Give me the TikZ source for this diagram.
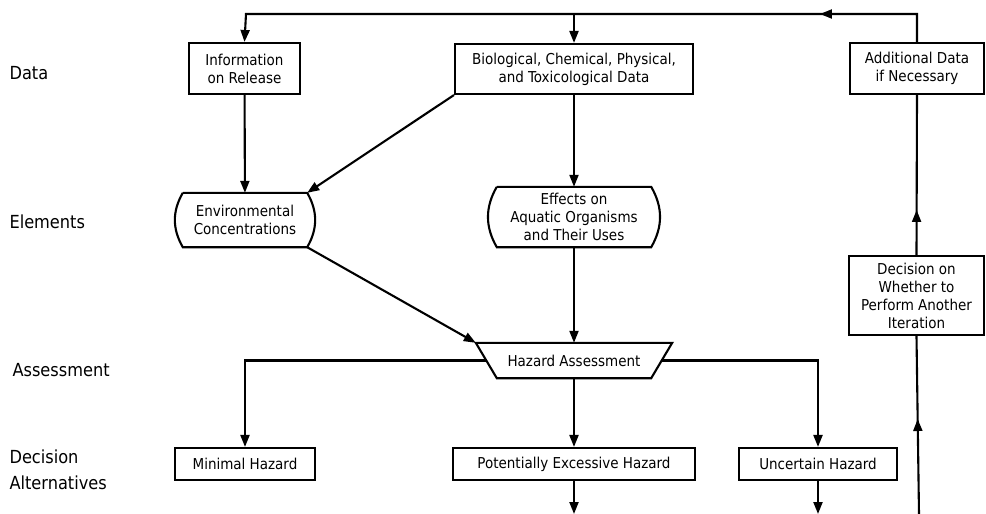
\documentclass[tikz,border=0pt]{standalone}
\usepackage{fontspec}
\setmainfont{DejaVu Sans Condensed}
\usetikzlibrary{arrows.meta,positioning,calc,decorations.markings}
\tikzset{x=1pt, y=-1pt, % one unit is one pixel of the original drawing
        every node/.style={font=\fontsize{15}{18}\selectfont},
        box/.style={ % plain rectangular boxes
            draw,
            line width=2.1pt,
            align=center,
            inner sep=0pt},
        bulgebox/.style={ % boxes with curved sides, border drawn by hand
            align=center,
            inner sep=0pt},
        rowlabel/.style={ % names of the rows on the left
            anchor=west,
            align=left,
            font=\fontsize{18}{26}\selectfont},
        flow/.style={ % plain lines of the diagram
            draw,
            line width=2.1pt},
        every edge/.style={ % Sets the properties for each connector
            draw,
            line width=2.1pt,
            -{Triangle[length=12pt,width=9pt]}},
        midarrow/.style={ % arrow head somewhere along a line
            postaction={decorate},
            decoration={markings,
                mark=at position #1 with {\arrow{Triangle[length=12pt,width=9pt]}}}}
        }

\begin{document}
\begin{tikzpicture}
    \useasboundingbox (0,0) rectangle (986,514);

    % row names
    \node[rowlabel] (lData) at (6,73) {Data};
    \node[rowlabel] (lElem) at (6,222) {Elements};
    \node[rowlabel] (lAss) at (9,370) {Assessment};
    \node[rowlabel] (lDec) at (6,470) {Decision\\Alternatives};

    % data row
    \node[box, minimum width=111, minimum height=51] (info) at (244.5,68.5) {Information\\on Release};
    \node[box, minimum width=238, minimum height=50] (bio) at (574,69) {Biological, Chemical, Physical,\\and Toxicological Data};
    \node[box, minimum width=134, minimum height=51] (add) at (917,68.5) {Additional Data\\if Necessary};

    % elements row
    \node[bulgebox, minimum width=124, minimum height=54] (env) at (245,220) {Environmental\\Concentrations};
    \node[bulgebox, minimum width=154, minimum height=60] (eff) at (574,217) {Effects on\\Aquatic Organisms\\and Their Uses};
    \foreach \n in {env,eff}
        \draw[flow] (\n.north west) -- (\n.north east) to[bend left=30] (\n.south east)
            -- (\n.south west) to[bend left=30] (\n.north west);

    \node[box, minimum width=135, minimum height=79] (dec) at (916.5,295.5) {Decision on\\Whether to\\Perform Another\\Iteration};

    % assessment
    \node[inner sep=0pt, minimum width=154, minimum height=35] (haz) at (574,360.5) {Hazard Assessment};
    \coordinate (hazTL) at ($(haz.north west)+(-21,0)$);
    \coordinate (hazTR) at ($(haz.north east)+(21,0)$);
    \coordinate (hazL) at ($(haz.west)+(-10.5,0)$);
    \coordinate (hazR) at ($(haz.east)+(10.5,0)$);
    \draw[flow] (haz.south west) -- (hazTL) -- (hazTR) -- (haz.south east) -- cycle;

    % decision alternatives
    \node[box, minimum width=140, minimum height=32] (minh) at (245,464) {Minimal Hazard};
    \node[box, minimum width=242, minimum height=32] (pot) at (574,464) {Potentially Excessive Hazard};
    \node[box, minimum width=158, minimum height=32] (unc) at (818,464) {Uncertain Hazard};

    \coordinate (topL) at (246,14);
    \coordinate (potEnd) at (574,514);
    \coordinate (uncEnd) at (818,514);
    \coordinate (loopStart) at (919,514);

    % feedback loop
    \draw[flow, midarrow=95pt] (loopStart) -- (dec.south);
    \draw[flow, midarrow=45pt] (dec.north) -- (add.south);
    \draw[flow, midarrow=125pt, -{Triangle[length=12pt,width=9pt]}] (add.north) |- (topL) -- (info.north);

    \draw
        (bio.north |- topL)
            edge (bio)
        (info)
            edge (env)
        (bio.south west)
            edge (env.north east)
        (bio)
            edge (eff)
        (env.south east)
            edge (hazTL)
        (eff)
            edge (haz)
        (haz)
            edge (pot)
        (pot)
            edge (potEnd)
        (unc)
            edge (uncEnd);
    \draw[flow, -{Triangle[length=12pt,width=9pt]}] (hazL) -| (minh);
    \draw[flow, -{Triangle[length=12pt,width=9pt]}] (hazR) -| (unc);
\end{tikzpicture}
\end{document}
